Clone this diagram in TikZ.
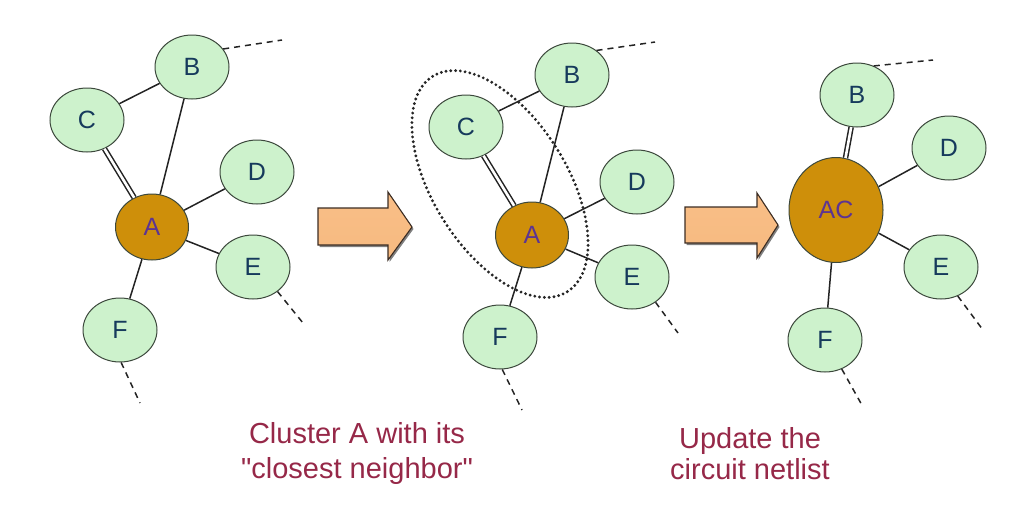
\documentclass[tikz,border=0pt]{standalone}
\usepackage{fontspec}
\setmainfont{Liberation Sans}[Ligatures=TeXOff]
\usetikzlibrary{shapes.geometric}

\definecolor{nodefill}{RGB}{205,242,204}
\definecolor{nodeedge}{RGB}{60,72,60}
\definecolor{hubfill}{RGB}{206,143,10}
\definecolor{lettercol}{RGB}{22,58,92}
\definecolor{hubtext}{RGB}{92,52,146}
\definecolor{linecol}{RGB}{35,35,35}
\definecolor{arrowedge}{RGB}{60,45,35}
\definecolor{captioncol}{RGB}{150,40,72}

\begin{document}
\begin{tikzpicture}[x=1pt,y=-1pt,
  vertex/.style={ellipse, draw=nodeedge, line width=1pt, fill=nodefill,
    inner sep=0pt, minimum width=74pt, minimum height=64pt,
    text=lettercol, font=\fontsize{25}{25}\selectfont},
  hub/.style={vertex, fill=hubfill, text=hubtext, minimum width=73pt, minimum height=66pt},
  wire/.style={draw=linecol, line width=1.5pt},
  wirepair/.style={wire, double=white, double distance=2.6pt},
  wireend/.style={wire, dash pattern=on 6pt off 5pt},
  cluster/.style={draw=black!85, line width=3.2pt, line cap=round, dash pattern=on 0pt off 4.8pt},
  bigarrow/.style={draw=arrowedge, line width=1.1pt, line join=miter,
    top color={rgb,255:red,248;green,190;blue,135},
    middle color={rgb,255:red,252;green,214;blue,172},
    bottom color={rgb,255:red,247;green,186;blue,128}},
  arrowshade/.style={fill=black!50},
  capt/.style={text=captioncol, align=center, inner sep=0pt, anchor=north}
]
\useasboundingbox (0,0) rectangle (1009,507);

% ---------- left graph ----------
\node[hub]    (a1) at (152,227) {A};
\node[vertex] (b1) at (192,67)  {B};
\node[vertex] (c1) at (87,120)  {C};
\node[vertex] (d1) at (257,172) {D};
\node[vertex] (e1) at (253,267) {E};
\node[vertex] (f1) at (120,330) {F};
\coordinate (b1x) at (282,40);
\coordinate (e1x) at (303,323);
\coordinate (f1x) at (140,403);

\draw[wire] (c1) -- (b1);
\draw[wire] (b1) -- (a1);
\draw[wirepair] (c1) -- (a1);
\draw[wire] (a1) -- (d1);
\draw[wire] (a1) -- (e1);
\draw[wire] (a1) -- (f1);
\draw[wireend] (b1.30) -- (b1x);
\draw[wireend] (e1.-45) -- (e1x);
\draw[wireend] (f1.-88) -- (f1x);

% ---------- first arrow ----------
\fill[arrowshade, xshift=1.5pt, yshift=-2pt]
  (318,208) -- (388,208) -- (388,192) -- (412,227) -- (388,260) -- (388,245) -- (318,245) -- cycle;
\path[bigarrow]
  (318,208) -- (388,208) -- (388,192) -- (412,227) -- (388,260) -- (388,245) -- (318,245) -- cycle;

% ---------- middle graph ----------
\node[vertex] (b2) at (572,75)  {B};
\node[vertex] (c2) at (466,127) {C};
\node[vertex] (d2) at (637,182) {D};
\node[vertex] (e2) at (632,277) {E};
\node[vertex] (f2) at (500,337) {F};
\node[hub]    (a2) at (532,235) {A};
\coordinate (b2x) at (655,42);
\coordinate (e2x) at (678,333);
\coordinate (f2x) at (522,410);

\draw[wire] (c2) -- (b2);
\draw[wire] (b2) -- (a2);
\draw[wirepair] (c2) -- (a2);
\draw[wire] (a2) -- (d2);
\draw[wire] (a2) -- (e2);
\draw[wire] (a2) -- (f2);
\draw[wireend] (b2.45) -- (b2x);
\draw[wireend] (e2.-47) -- (e2x);
\draw[wireend] (f2.-86) -- (f2x);

% dotted loop around the merged pair
\coordinate (loop) at (500,184);
\draw[cluster, rotate around={-58:(loop)}] (loop) ellipse (127 and 67);

% ---------- second arrow ----------
\fill[arrowshade, xshift=1.5pt, yshift=-2pt]
  (685,207) -- (757,207) -- (757,193) -- (778,225) -- (757,258) -- (757,243) -- (685,243) -- cycle;
\path[bigarrow]
  (685,207) -- (757,207) -- (757,193) -- (778,225) -- (757,258) -- (757,243) -- (685,243) -- cycle;

% ---------- right graph ----------
\node[hub, minimum width=94pt, minimum height=105pt] (ac) at (836,210) {AC};
\node[vertex] (b3) at (857,95)  {B};
\node[vertex] (d3) at (949,148) {D};
\node[vertex] (e3) at (941,267) {E};
\node[vertex] (f3) at (825,340) {F};
\coordinate (b3x) at (933,60);
\coordinate (e3x) at (983,330);
\coordinate (f3x) at (863,407);

\draw[wirepair] (b3) -- (ac);
\draw[wire] (ac) -- (d3);
\draw[wire] (ac) -- (e3);
\draw[wire] (ac) -- (f3);
\draw[wireend] (b3.60) -- (b3x);
\draw[wireend] (e3.-60) -- (e3x);
\draw[wireend] (f3.-60) -- (f3x);

% ---------- captions ----------
\node[capt, font=\fontsize{29}{35}\selectfont] (cap1) at (357,422)
  {Cluster A with its\\"closest neighbor"};
\node[capt, font=\fontsize{29}{31}\selectfont] (cap2) at (750,427)
  {Update the\\circuit netlist};
\end{tikzpicture}
\end{document}
